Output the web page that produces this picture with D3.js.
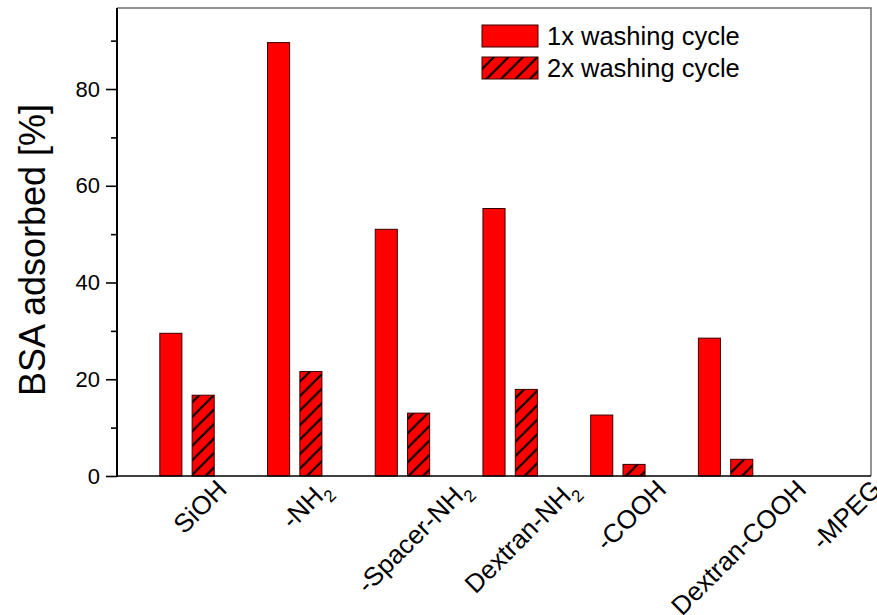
<!DOCTYPE html>
<html>
<head>
<meta charset="utf-8">
<script src="https://cdn.jsdelivr.net/npm/d3@7"></script>
<style>
  html, body { margin: 0; padding: 0; background: #fff; }
  svg { display: block; font-family: "Liberation Sans", Arial, Helvetica, sans-serif; }
</style>
</head>
<body>
<svg id="chart" width="877" height="615"></svg>
<script>
// Surface chemistry of the particles ("_" marks a subscript)
const categories = ["SiOH", "-NH_2", "-Spacer-NH_2", "Dextran-NH_2", "-COOH", "Dextran-COOH", "-MPEG"];
// BSA adsorbed [%] after one and after two washing cycles
const wash1 = [29.5, 89.6, 51.0, 55.3, 12.6, 28.5, 0];
const wash2 = [16.7, 21.6, 13.0, 17.9, 2.4, 3.45, 0];
const seriesNames = ["1x washing cycle", "2x washing cycle"];
const yMajorTicks = [0, 20, 40, 60, 80];
const yMinorTicks = [10, 30, 50, 70, 90];
const yTitle = "BSA adsorbed [%]";

const svg = d3.select("#chart");
const plot = { left: 117, right: 871, top: 8, bottom: 476 };

const x = d3.scaleBand().domain(categories).range([plot.left, plot.right]).paddingInner(0).paddingOuter(0);
const y = d3.scaleLinear().domain([0, 96.75]).range([plot.bottom, plot.top]);

const step = x.step();
const barW = step * 0.205;
// centre of each series' bar relative to the band start
const seriesCentre = [step * 0.5, step * 0.8];

// hatch pattern for the second washing cycle
const defs = svg.append("defs");
const pat = defs.append("pattern")
  .attr("id", "hatch")
  .attr("patternUnits", "userSpaceOnUse")
  .attr("width", 14.5).attr("height", 14.5);
pat.append("rect").attr("width", 14.5).attr("height", 14.5).attr("fill", "#ff0000");
pat.append("path").attr("d", "M-2,16.5 L16.5,-2").attr("stroke", "#000").attr("stroke-width", 2.2);
pat.append("path").attr("d", "M-2,2 L2,-2 M12.5,16.5 L16.5,12.5").attr("stroke", "#000").attr("stroke-width", 2.2);

// frame (top and right)
svg.append("path")
  .attr("d", `M${plot.left},${plot.top} H${plot.right} V${plot.bottom}`)
  .attr("fill", "none").attr("stroke", "#707070").attr("stroke-width", 1.5);

// bars
const series = [wash1, wash2];
const fills = ["#ff0000", "url(#hatch)"];
series.forEach((vals, s) => {
  svg.append("g").selectAll("rect")
    .data(categories.map((c, i) => ({ c, v: vals[i] })).filter(d => d.v > 0))
    .join("rect")
    .attr("x", d => x(d.c) + seriesCentre[s] - barW / 2)
    .attr("y", d => y(d.v))
    .attr("width", barW)
    .attr("height", d => y(0) - y(d.v))
    .attr("fill", fills[s])
    .attr("stroke", "#3a0000")
    .attr("stroke-width", 1);
});

// y axis: major ticks with labels
const yAxis = svg.append("g")
  .attr("transform", `translate(${plot.left},0)`)
  .call(d3.axisLeft(y).tickValues(yMajorTicks).tickSize(11).tickPadding(6).tickSizeOuter(0));
yAxis.select(".domain").remove();
yAxis.selectAll(".tick line").attr("stroke", "#000").attr("stroke-width", 1.6);
yAxis.selectAll(".tick text").attr("font-size", 22).attr("fill", "#000")
  .attr("font-family", "'Liberation Sans', Arial, sans-serif");

// y axis: minor ticks
const yMinor = svg.append("g")
  .attr("transform", `translate(${plot.left},0)`)
  .call(d3.axisLeft(y).tickValues(yMinorTicks).tickSize(6).tickFormat(""));
yMinor.select(".domain").remove();
yMinor.selectAll(".tick line").attr("stroke", "#000").attr("stroke-width", 1.6);

// axis lines
svg.append("line")
  .attr("x1", plot.left).attr("x2", plot.left)
  .attr("y1", plot.top).attr("y2", plot.bottom + 1)
  .attr("stroke", "#000").attr("stroke-width", 2);
svg.append("line")
  .attr("x1", plot.left).attr("x2", plot.right)
  .attr("y1", plot.bottom).attr("y2", plot.bottom)
  .attr("stroke", "#000").attr("stroke-width", 1.6);

// y title
svg.append("text")
  .attr("transform", `translate(45,250) rotate(-90)`)
  .attr("text-anchor", "middle")
  .attr("font-size", 36)
  .attr("fill", "#000")
  .text(yTitle);

// rotated category labels: bounding box centred on the label position, top just under the axis
const labelTop = 474;
categories.forEach(c => {
  const g = svg.append("g");
  const t = g.append("text")
    .attr("transform", "rotate(-45)")
    .attr("text-anchor", "end")
    .attr("font-size", 26)
    .attr("fill", "#000");
  const parts = c.split("_");
  t.append("tspan").text(parts[0]);
  if (parts[1]) {
    t.append("tspan").attr("font-size", 17).attr("dy", 8).text(parts[1]);
  }
  const bb = g.node().getBBox();
  const cx = x(c) + step * 0.77;
  g.attr("transform", `translate(${cx - (bb.x + bb.width / 2)},${labelTop - bb.y})`);
});

// legend
const legend = svg.append("g");
seriesNames.forEach((name, s) => {
  const yy = 25 + s * 32;
  legend.append("rect")
    .attr("x", 482).attr("y", yy)
    .attr("width", 56).attr("height", 22)
    .attr("fill", fills[s])
    .attr("stroke", "#3a0000").attr("stroke-width", 1);
  legend.append("text")
    .attr("x", 547).attr("y", yy + 20)
    .attr("font-size", 25.5)
    .attr("fill", "#000")
    .text(name);
});
</script>
</body>
</html>
